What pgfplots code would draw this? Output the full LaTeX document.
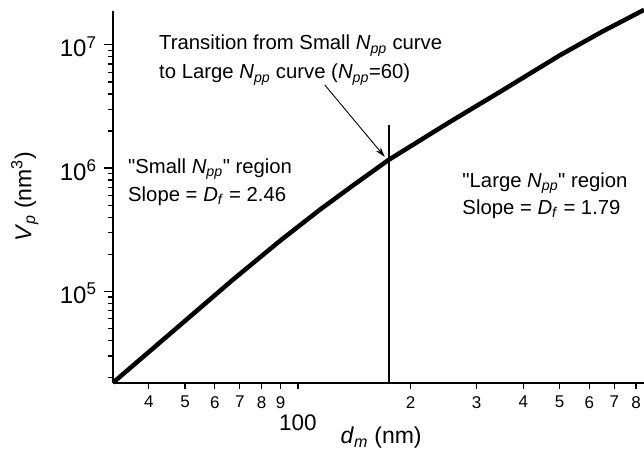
\documentclass[border=0pt]{standalone}
\usepackage{fontspec}
\setmainfont{Liberation Sans}
\newfontfamily\qf{Liberation Sans}
\usepackage{pgfplots}
\pgfplotsset{compat=1.18}
\usetikzlibrary{arrows.meta}
\newcommand\Npp{\textit{N}\textsubscript{\textit{pp}}}
\newcommand\q{{\qf"}}
\newcommand\dec[1]{10\raisebox{8.5pt}{\fontsize{17}{17}\selectfont #1}}
\begin{document}
\begin{tikzpicture}
\begin{axis}[
  scale only axis, width=531pt, height=372.6pt,
  xmode=log, ymode=log,
  xmin=32.1, xmax=840, ymin=1.8e4, ymax=1.89e7,
  axis x line*=bottom, axis y line*=left,
  axis line style={line width=1.8pt},
  tick align=outside,
  tick style={black, line width=1.3pt},
  major tick length=9.5pt, minor tick length=5.5pt,
  xtick={40,50,60,70,80,90,200,300,400,500,600,700,800},
  xticklabels={4,5,6,7,8,9,2,3,4,5,6,7,8},
  every major x tick/.append style={/pgfplots/major tick length=6pt},
  extra x ticks={100}, extra x tick labels={100},
  extra x tick style={major tick length=11pt, xticklabel style={font=\fontsize{22.5}{22.5}\selectfont, yshift=-17pt}},
  xticklabel style={font=\fontsize{17}{17}\selectfont},
  ytick={1e5,1e6,1e7},
  yticklabels={\dec{5},\dec{6},\dec{7}},
  minor ytick={2e4,3e4,4e4,5e4,6e4,7e4,8e4,9e4,2e5,3e5,4e5,5e5,6e5,7e5,8e5,9e5,2e6,3e6,4e6,5e6,6e6,7e6,8e6,9e6},
  yticklabel style={font=\fontsize{24}{24}\selectfont, xshift=-4pt, yshift=-2pt},
  xlabel={\textit{d}\textsubscript{\textit{m}} (nm)},
  every axis x label/.style={at={(axis description cs:0.505,-0.161)}, anchor=base, font=\fontsize{23}{23}\selectfont},
  ylabel={\textit{V}\textsubscript{\textit{p}} (nm\textsuperscript{3})},
  every axis y label/.style={at={(axis description cs:-0.1337,0.5)}, rotate=90, anchor=south, font=\fontsize{23}{23}\selectfont},
  clip=false,
]
\addplot[black, line width=4.5pt, line join=round] coordinates {
(32.1,1.82e4) (45,4.39e4) (67.1,1.246e5) (90,2.6e5) (114.5,4.6e5) (140,7.2e5) (174.8,1.167e6)
(250,2.29e6) (350,4.23e6) (500,8.2e6) (650,1.28e7) (840,1.92e7)};
\addplot[black, line width=2pt] coordinates {(174.8,1.8e4) (174.8,2.24e6)};
\draw[-{Stealth[length=10pt,width=6pt]}, line width=0.9pt] (axis cs:118,4.73e6) -- (axis cs:170.6,1.235e6);
\node[anchor=base west, font=\fontsize{20.3}{24}\selectfont, inner sep=0pt] at (axis cs:42.6,9.08e6) {Transition from Small \Npp{} curve};
\node[anchor=base west, font=\fontsize{20.3}{24}\selectfont, inner sep=0pt] at (axis cs:42.6,5.28e6) {to Large \Npp{} curve (\Npp=60)};
\node[anchor=base west, font=\fontsize{20.3}{24}\selectfont, inner sep=0pt] at (axis cs:35.2,9.0e5) {\q Small \Npp\q{} region};
\node[anchor=base west, font=\fontsize{20.3}{24}\selectfont, inner sep=0pt] at (axis cs:35.2,5.37e5) {Slope = \textit{D}\textsubscript{\textit{f}} = 2.46};
\node[anchor=base west, font=\fontsize{20.3}{24}\selectfont, inner sep=0pt] at (axis cs:274.8,6.93e5) {\q Large \Npp\q{} region};
\node[anchor=base west, font=\fontsize{20.3}{24}\selectfont, inner sep=0pt] at (axis cs:274.8,4.19e5) {Slope = \textit{D}\textsubscript{\textit{f}} = 1.79};
\end{axis}
\pgfresetboundingbox
\path[use as bounding box] (current axis.south west) ++(-113pt,-67.7pt) rectangle ++(644pt,451pt);
\end{tikzpicture}
\end{document}
